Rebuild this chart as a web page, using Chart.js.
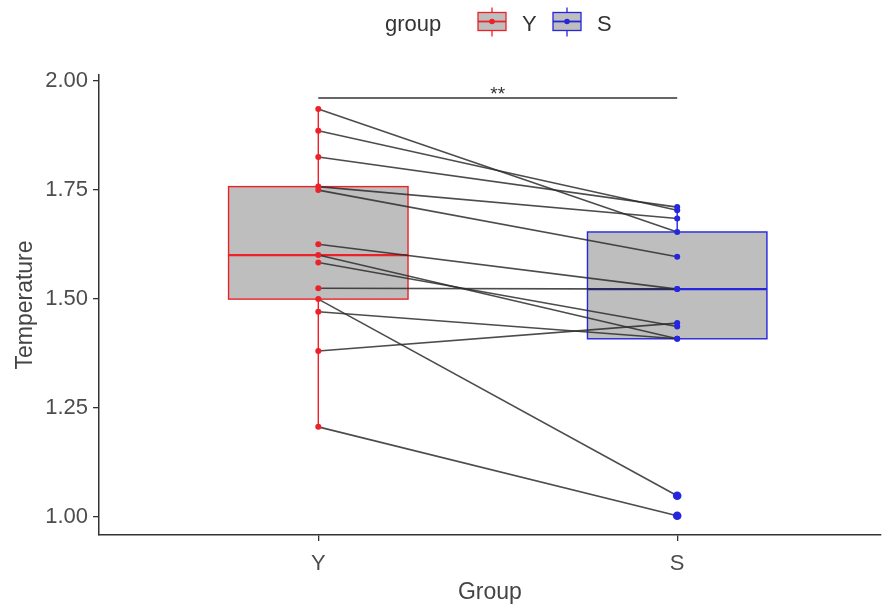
<!DOCTYPE html>
<html>
<head>
<meta charset="utf-8">
<script src="https://cdn.jsdelivr.net/npm/chart.js@4/dist/chart.umd.min.js"></script>
<style>
  html, body { margin: 0; padding: 0; background: #ffffff; }
  #wrap { width: 885px; height: 608px; }
</style>
</head>
<body>
<div id="wrap"><canvas id="c" width="885" height="608"></canvas></div>
<script>
// Groups on the horizontal axis
const groups = ['Y', 'S'];
const groupPos = [1, 2];

// Paired temperatures, one entry per subject (Y -> S)
const tempY = [1.935, 1.885, 1.825, 1.757, 1.749, 1.625, 1.600, 1.583, 1.524, 1.499, 1.470, 1.380, 1.206];
const tempS = [1.653, 1.703, 1.710, 1.684, 1.596, 1.522, 1.408, 1.436, 1.522, 1.048, 1.408, 1.444, 1.002];

// Box summaries: lower whisker, Q1, median, Q3, upper whisker
const boxY = [1.206, 1.499, 1.600, 1.757, 1.935];
const boxS = [1.408, 1.408, 1.522, 1.653, 1.710];
const outliersS = [1.048, 1.002];

// Axis ticks and significance bracket
const yTicks = [1.00, 1.25, 1.50, 1.75, 2.00];
const sigLevel = 1.960;
const sigLabel = '**';

const RED = '#ec2228';
const BLUE = '#2626de';
const BOX_FILL = '#bebebe';
const INK = '#333333';
const TICK_TXT = '#4d4d4d';
const FONT = "'Liberation Sans', Arial, sans-serif";

const groupColors = [RED, BLUE];
const boxes = [boxY, boxS];

// Boxes with whiskers, drawn beneath the paired lines and points
const boxPlugin = {
  id: 'boxes',
  beforeDatasetsDraw(chart) {
    const { ctx, scales: { x, y } } = chart;
    ctx.save();
    boxes.forEach((b, i) => {
      const cx = x.getPixelForValue(groupPos[i]);
      const half = x.getPixelForValue(groupPos[i] + 0.25) - cx;
      const yLo = y.getPixelForValue(b[0]);
      const yQ1 = y.getPixelForValue(b[1]);
      const yMed = y.getPixelForValue(b[2]);
      const yQ3 = y.getPixelForValue(b[3]);
      const yHi = y.getPixelForValue(b[4]);
      ctx.strokeStyle = groupColors[i];
      ctx.lineWidth = 1.4;
      // whiskers
      ctx.beginPath();
      ctx.moveTo(cx, yQ3); ctx.lineTo(cx, yHi);
      ctx.moveTo(cx, yQ1); ctx.lineTo(cx, yLo);
      ctx.stroke();
      // box
      ctx.fillStyle = BOX_FILL;
      ctx.fillRect(cx - half, yQ3, 2 * half, yQ1 - yQ3);
      ctx.strokeRect(cx - half, yQ3, 2 * half, yQ1 - yQ3);
      // median
      ctx.lineWidth = 2.4;
      ctx.beginPath();
      ctx.moveTo(cx - half, yMed); ctx.lineTo(cx + half, yMed);
      ctx.stroke();
    });
    ctx.restore();
  }
};

// Significance bracket between the two groups
const sigPlugin = {
  id: 'sig',
  afterDatasetsDraw(chart) {
    const { ctx, scales: { x, y } } = chart;
    const x1 = x.getPixelForValue(groupPos[0]);
    const x2 = x.getPixelForValue(groupPos[1]);
    const yy = y.getPixelForValue(sigLevel);
    ctx.save();
    ctx.strokeStyle = INK;
    ctx.lineWidth = 1.5;
    ctx.beginPath();
    ctx.moveTo(x1, yy); ctx.lineTo(x2, yy);
    ctx.stroke();
    ctx.fillStyle = INK;
    ctx.font = '19px ' + FONT;
    ctx.textAlign = 'center';
    ctx.textBaseline = 'alphabetic';
    ctx.fillText(sigLabel, (x1 + x2) / 2, yy + 2);
    ctx.restore();
  }
};

// Legend across the top: title followed by box keys
const legendPlugin = {
  id: 'boxLegend',
  afterDraw(chart) {
    const { ctx } = chart;
    ctx.save();
    ctx.font = '22px ' + FONT;
    ctx.textBaseline = 'alphabetic';
    ctx.textAlign = 'left';
    ctx.fillStyle = INK;
    ctx.fillText('group', 385, 31);
    const keys = [{ x: 478, label: groups[0], color: RED }, { x: 553, label: groups[1], color: BLUE }];
    keys.forEach(k => {
      const w = 28, top = 12.5, h = 18, cx = k.x + w / 2, mid = top + h / 2;
      ctx.strokeStyle = k.color;
      ctx.lineWidth = 1.3;
      ctx.beginPath();
      ctx.moveTo(cx, 7.5); ctx.lineTo(cx, top);
      ctx.moveTo(cx, top + h); ctx.lineTo(cx, 36.5);
      ctx.stroke();
      ctx.fillStyle = BOX_FILL;
      ctx.fillRect(k.x, top, w, h);
      ctx.strokeRect(k.x, top, w, h);
      ctx.lineWidth = 1.8;
      ctx.beginPath();
      ctx.moveTo(k.x, mid); ctx.lineTo(k.x + w, mid);
      ctx.stroke();
      ctx.fillStyle = k.color;
      ctx.beginPath();
      ctx.arc(cx, mid, 2.8, 0, Math.PI * 2);
      ctx.fill();
      ctx.fillStyle = INK;
      ctx.fillText(k.label, k.x + w + 16, 31);
    });
    ctx.restore();
  }
};

// One line per subject joining its two measurements
const pairSets = tempY.map((v, i) => ({
  data: [{ x: groupPos[0], y: v }, { x: groupPos[1], y: tempS[i] }],
  showLine: true,
  borderColor: 'rgba(45,45,45,0.85)',
  borderWidth: 1.6,
  pointRadius: 0,
  order: 2
}));

const pointSets = [
  {
    data: tempY.map(v => ({ x: groupPos[0], y: v })),
    backgroundColor: RED, borderWidth: 0, pointRadius: 3, order: 1
  },
  {
    data: tempS.map(v => ({ x: groupPos[1], y: v })),
    backgroundColor: BLUE, borderWidth: 0, pointRadius: 3, order: 1
  },
  {
    data: outliersS.map(v => ({ x: groupPos[1], y: v })),
    backgroundColor: BLUE, borderWidth: 0, pointRadius: 4.3, order: 0
  }
];

new Chart(document.getElementById('c'), {
  type: 'scatter',
  data: { datasets: [...pairSets, ...pointSets] },
  options: {
    responsive: false,
    animation: false,
    devicePixelRatio: 1,
    layout: { padding: { top: 75, left: 0, right: 0, bottom: 0 } },
    plugins: { legend: { display: false }, tooltip: { enabled: false } },
    scales: {
      x: {
        type: 'linear',
        min: 0.389,
        max: 2.567,
        afterBuildTicks: s => { s.ticks = groupPos.map(v => ({ value: v })); },
        afterFit: s => { s.height = 73; },
        ticks: {
          callback: (v, i) => groups[i],
          color: TICK_TXT,
          font: { family: FONT, size: 22 },
          padding: 10,
          maxRotation: 0
        },
        grid: { drawOnChartArea: false, drawTicks: true, tickLength: 6, color: INK, lineWidth: 1.3 },
        border: { color: INK, width: 1.5 },
        title: {
          display: true, text: 'Group', color: '#444444',
          font: { family: FONT, size: 23 },
          padding: { top: 0, bottom: 2 }
        }
      },
      y: {
        type: 'linear',
        min: 0.958,
        max: 2.013,
        afterBuildTicks: s => { s.ticks = yTicks.map(v => ({ value: v })); },
        afterFit: s => { s.width = 99; },
        ticks: {
          callback: v => Number(v).toFixed(2),
          color: TICK_TXT,
          font: { family: FONT, size: 22 },
          padding: 5
        },
        grid: { drawOnChartArea: false, drawTicks: true, tickLength: 6, color: INK, lineWidth: 1.3 },
        border: { color: INK, width: 1.5 },
        title: {
          display: true, text: 'Temperature', color: '#444444',
          font: { family: FONT, size: 23 },
          padding: { top: 12, bottom: 0 }
        }
      }
    }
  },
  plugins: [boxPlugin, sigPlugin, legendPlugin]
});
</script>
</body>
</html>
